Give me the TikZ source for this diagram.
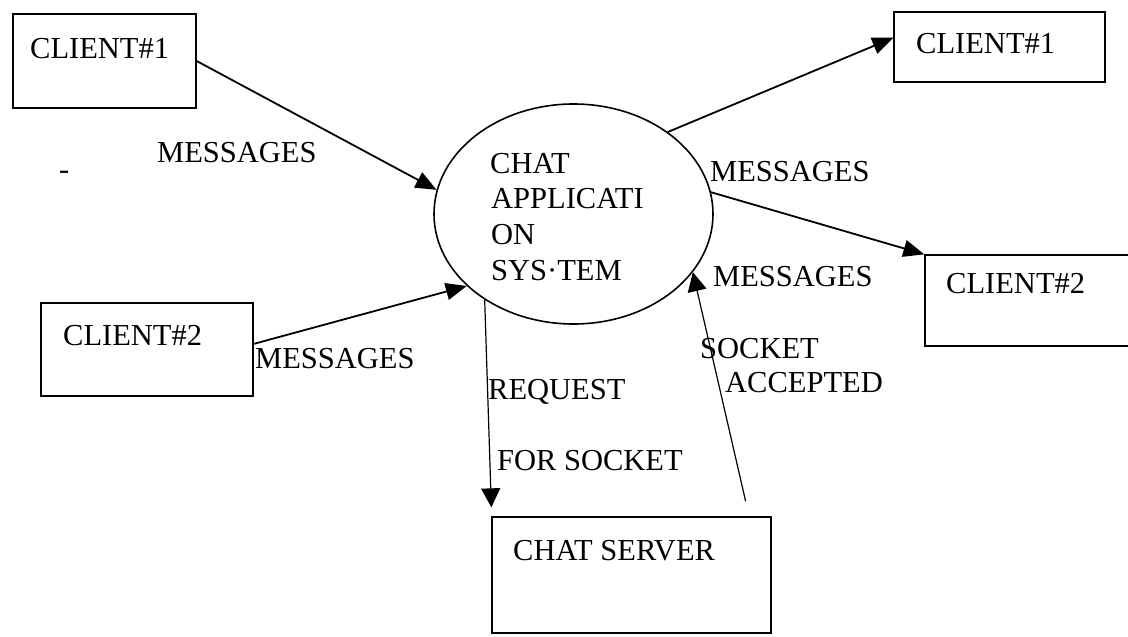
\documentclass[tikz,border=0pt]{standalone}
\usepackage{fontspec}
\setmainfont{Liberation Serif}
\usetikzlibrary{arrows.meta,shapes.geometric}
\begin{document}
\begin{tikzpicture}[x=1pt,y=-1pt,
  box/.style={draw,line width=1.3pt,inner sep=0pt},
  lbl/.style={anchor=base west,inner sep=0pt,font=\fontsize{30.5}{36}\selectfont},
  flow/.style={line width=1.8pt,-{Triangle[length=21pt,width=17pt]}},
  thinflow/.style={line width=1.2pt,-{Triangle[length=19pt,width=19pt]}}]
\fill[white] (0,0) rectangle (1128,637);
\clip (0,0) rectangle (1128,637);

% external entities
\node[box,minimum width=183pt,minimum height=94pt] (c1l) at (104.5,61) {};
\node[box,minimum width=212pt,minimum height=93pt] (c2l) at (147,349.5) {};
\node[box,minimum width=211pt,minimum height=70pt] (c1r) at (999.5,47) {};
\node[box,minimum width=215pt,minimum height=91pt] (c2r) at (1032.5,300.5) {};
\node[box,minimum width=279pt,minimum height=116pt] (srv) at (631.5,575) {};

% central process
\node[draw,ellipse,line width=1.6pt,minimum width=279pt,minimum height=220pt,inner sep=0pt] (app) at (573.5,214) {};

% box captions
\node[lbl] (c1ltxt) at (30,58) {CLIENT\#1};
\node[lbl] (c2ltxt) at (63,345) {CLIENT\#2};
\node[lbl] (c1rtxt) at (916,53) {CLIENT\#1};
\node[lbl] (c2rtxt) at (946,293) {CLIENT\#2};
\node[lbl] (srvtxt) at (513,560) {CHAT SERVER};

% process caption
\node[lbl] (apptxt1) at (490,173) {CHAT};
\node[lbl] (apptxt2) at (491,208) {APPLICATI};
\node[lbl] (apptxt3) at (491,244) {ON};
\node[lbl] (apptxt4) at (491,280) {SYS·TEM};

% data flows
\draw[flow] (c1l.east) -- (app.170);
\draw[flow] (c2l.3) -- (app.214);
\draw[flow] (app.41) -- (c1r.175);
\draw[flow] (app.9) -- (c2r.north west);
\draw[thinflow] (app.224) -- ([yshift=9pt]srv.north west);
\draw[thinflow] ([xshift=-26pt,yshift=15pt]srv.north east) -- (app.334);

% flow labels
\node[lbl] (dash) at (59,179) {-};
\node[lbl] (m1) at (157,162) {MESSAGES};
\node[lbl] (m2) at (255,368) {MESSAGES};
\node[lbl] (m3) at (710,181) {MESSAGES};
\node[lbl] (m4) at (713,286) {MESSAGES};
\node[lbl] (req1) at (488,399) {REQUEST};
\node[lbl] (req2) at (497,470) {FOR SOCKET};
\node[lbl] (acc1) at (700,358) {SOCKET};
\node[lbl] (acc2) at (725,392) {ACCEPTED};
\end{tikzpicture}
\end{document}
